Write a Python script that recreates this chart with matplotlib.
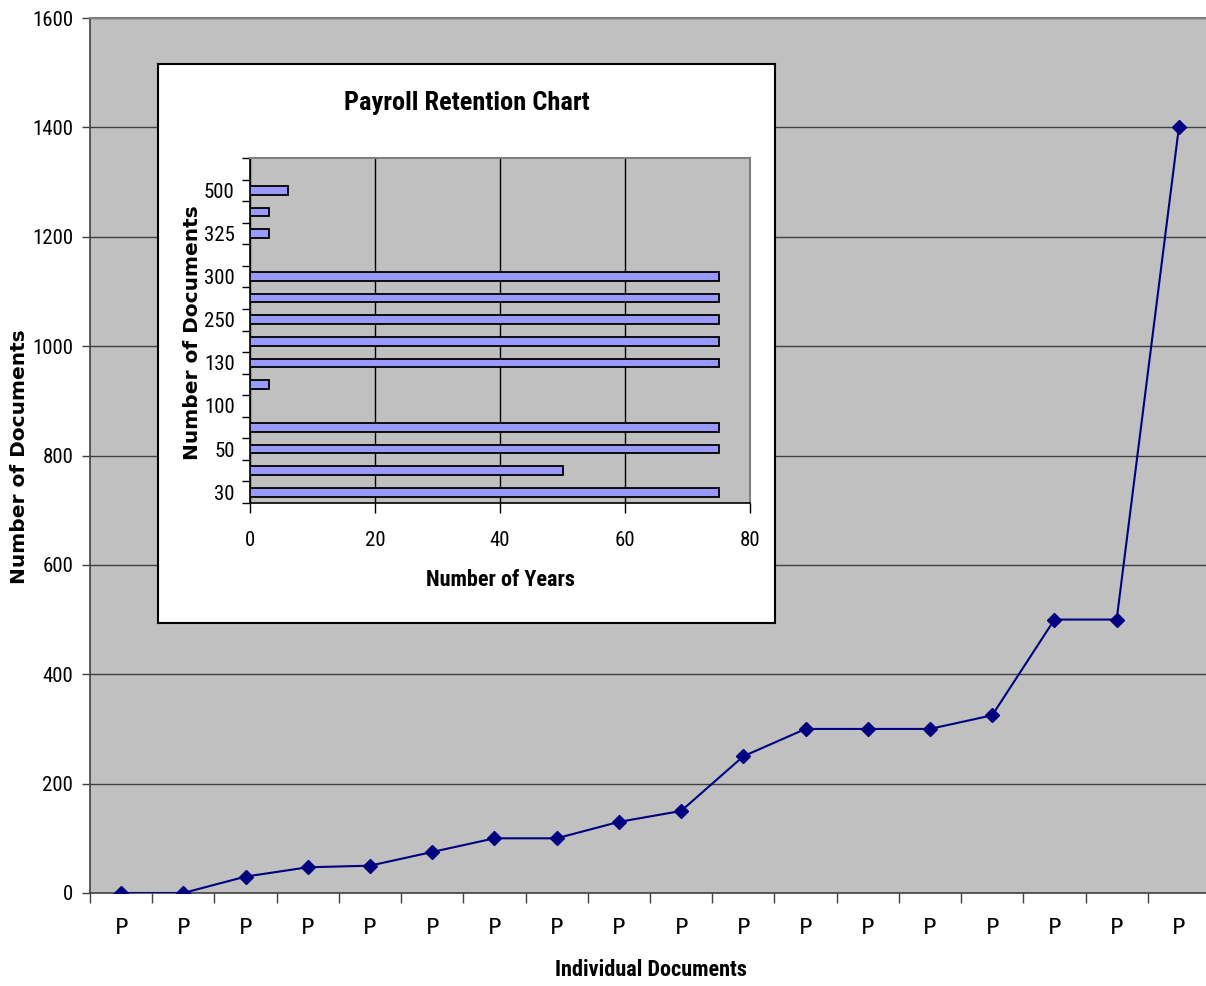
import numpy as np
import matplotlib
matplotlib.use("Agg")
import matplotlib.pyplot as plt
from matplotlib import font_manager

# prefer a condensed face when one is available
_names = {f.name for f in font_manager.fontManager.ttflist}
NARROW = [n for n in ["Liberation Sans Narrow", "Roboto Condensed", "Liberation Sans"] if n in _names]
NARROW.append("DejaVu Sans")
CONDENSED = NARROW[0] != "Liberation Sans"

# document counts along the main line
doc_labels = ["P"] * 18
doc_counts = [0, 0, 30, 47, 50, 75, 100, 100, 130, 150, 250, 300, 300, 300, 325, 500, 500, 1400]

# retention categories (number of documents) and years kept
ret_categories = ["30", "47", "50", "75", "100", "100", "130", "150",
                  "250", "300", "300", "300", "325", "500", "500", "1400"]
ret_years = [75, 50, 75, 75, 0, 3, 75, 75, 75, 75, 75, 0, 3, 3, 6, 0]

W, H = 1206, 986
fig = plt.figure(figsize=(W / 100, H / 100), dpi=100)


def fx(px):
    return px / W


def fy(py):
    return 1 - py / H


tick_fs = 15 if CONDENSED else 13.5
title_fs = 19 if CONDENSED else 16.5
label_fs = 16 if CONDENSED else 14

# ---- main line chart ----
ax = fig.add_axes([fx(90), fy(893), fx(1210) - fx(90), fy(18) - fy(893)])
ax.set_facecolor("#C0C0C0")
x = np.arange(len(doc_counts))
ax.plot(x, doc_counts, color="#000080", lw=1.5, marker="D", ms=7,
        mfc="#000080", mec="#000080", zorder=3)
ax.set_xlim(-0.5, len(doc_counts) - 0.5)
ax.set_ylim(0, 1600)
ax.set_yticks(np.arange(0, 1601, 200))
ax.yaxis.grid(True, color="#404040", lw=1)
ax.set_axisbelow(True)
ax.set_xticks(np.arange(-0.5, len(doc_counts), 1))
ax.set_xticklabels([])
ax.set_xticks(x, minor=True)
ax.set_xticklabels(doc_labels, minor=True, fontsize=16, family="DejaVu Sans")
ax.tick_params(axis="x", which="major", length=7, color="#404040", width=1)
ax.tick_params(axis="x", which="minor", length=0, pad=18)
ax.tick_params(axis="y", length=6, color="#404040", width=1, pad=6)
for lab in ax.get_yticklabels():
    lab.set_family(NARROW)
    lab.set_fontsize(tick_fs)
for s in ["left", "bottom"]:
    ax.spines[s].set_color("#404040")
    ax.spines[s].set_linewidth(1.2)
ax.spines["top"].set_color("#808080")
ax.spines["top"].set_linewidth(1.5)
ax.spines["right"].set_visible(False)

fig.text(fx(20), fy(457), "Number of Documents", rotation=90, ha="center",
         va="center", fontsize=14.5, fontweight="bold", family="DejaVu Sans")
fig.text(fx(651), fy(970), "Individual Documents", ha="center", va="center",
         fontsize=label_fs, fontweight="bold", family=NARROW)

# ---- inset box ----
box = fig.add_axes([fx(158), fy(623), fx(775) - fx(158), fy(64) - fy(623)])
box.set_facecolor("white")
box.set_xticks([])
box.set_yticks([])
for s in box.spines.values():
    s.set_color("black")
    s.set_linewidth(1.5)

# ---- inset bar chart ----
ins = fig.add_axes([fx(250), fy(503), fx(750) - fx(250), fy(158) - fy(503)])
ins.set_facecolor("#C0C0C0")
y = np.arange(len(ret_years))
ins.barh(y, ret_years, height=0.4, color="#9999FF", edgecolor="black", lw=1.3, zorder=3)
ins.set_xlim(0, 80)
ins.set_ylim(-0.5, len(ret_years) - 0.5)
ins.set_xticks(np.arange(0, 81, 20))
ins.xaxis.grid(True, color="black", lw=1)
ins.set_axisbelow(True)
ins.set_yticks(np.arange(-0.5, len(ret_years), 1))
ins.set_yticklabels([])
ins.set_yticks(y[::2], minor=True)
ins.set_yticklabels(ret_categories[::2], minor=True, family=NARROW, fontsize=tick_fs)
ins.tick_params(axis="y", which="major", length=6, width=1, color="black")
ins.tick_params(axis="y", which="minor", length=0, pad=11)
ins.tick_params(axis="x", length=7, width=1, color="black", pad=13)
for lab in ins.get_xticklabels():
    lab.set_family(NARROW)
    lab.set_fontsize(tick_fs)
for s in ["left", "bottom"]:
    ins.spines[s].set_color("black")
    ins.spines[s].set_linewidth(1.2)
for s in ["top", "right"]:
    ins.spines[s].set_color("#808080")
    ins.spines[s].set_linewidth(1.5)

fig.text(fx(467), fy(103), "Payroll Retention Chart", ha="center", va="center",
         fontsize=title_fs, fontweight="bold", family=NARROW)
fig.text(fx(500), fy(580), "Number of Years", ha="center", va="center",
         fontsize=label_fs, fontweight="bold", family=NARROW)
fig.text(fx(193), fy(333), "Number of Documents", rotation=90, ha="center",
         va="center", fontsize=14.5, fontweight="bold", family="DejaVu Sans")

fig.savefig("out.png", dpi=100, facecolor="white")
